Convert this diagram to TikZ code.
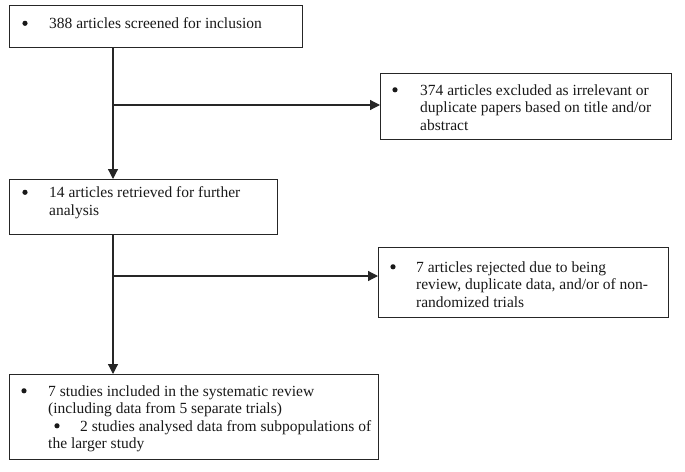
\documentclass[tikz,border=0pt]{standalone}
\usepackage{fontspec}
\setmainfont{Liberation Serif}
\usetikzlibrary{arrows.meta}
\tikzset{
  box/.style={draw=black!85, line width=1.2pt, rectangle, inner sep=0pt, anchor=north west},
  txt/.style={inner sep=0pt, anchor=base west, font=\fontsize{15.5}{17.5}\selectfont, text=black!90},
  bul/.style={circle, fill=black!90, inner sep=0pt, minimum size=5.2pt, yshift=5.2pt},
  arr/.style={draw=black!85, line width=1.2pt, -{Triangle[length=10pt,width=10pt]}},
  ln/.style={draw=black!85, line width=1.2pt}
}
\begin{document}
\begin{tikzpicture}[x=1pt,y=-1pt]
\useasboundingbox (0,0) rectangle (685,471);
% boxes
\node[box, minimum width=293pt, minimum height=42pt] (b1) at (9,5) {};
\node[box, minimum width=291pt, minimum height=66pt] (b2) at (380,73) {};
\node[box, minimum width=268pt, minimum height=55pt] (b3) at (9,179) {};
\node[box, minimum width=290pt, minimum height=70pt] (b4) at (378,247) {};
\node[box, minimum width=369pt, minimum height=85pt] (b5) at (9,374) {};
% box 1
\node[bul] (b1d) at (25,28.5) {};
\node[txt] (b1t) at (49,28.5) {388 articles screened for inclusion};
% box 2
\node[bul] (b2d) at (395,95) {};
\node[txt] (b2t1) at (420,95) {374 articles excluded as irrelevant or};
\node[txt] (b2t2) at (420,112.5) {duplicate papers based on title and/or};
\node[txt] (b2t3) at (420,130) {abstract};
% box 3
\node[bul] (b3d) at (25,197.5) {};
\node[txt] (b3t1) at (49,197.5) {14 articles retrieved for further};
\node[txt] (b3t2) at (49,215) {analysis};
% box 4
\node[bul] (b4d) at (393,272) {};
\node[txt] (b4t1) at (416,272) {7 articles rejected due to being};
\node[txt] (b4t2) at (416,289.5) {review, duplicate data, and/or of non-};
\node[txt] (b4t3) at (416,307) {randomized trials};
% box 5
\node[bul] (b5d1) at (24,396) {};
\node[txt] (b5t1) at (48,396) {7 studies included in the systematic review};
\node[txt] (b5t2) at (48,413.5) {(including data from 5 separate trials)};
\node[bul] (b5d2) at (57,431) {};
\node[txt] (b5t3) at (80,431) {2 studies analysed data from subpopulations of};
\node[txt] (b5t4) at (48,448.5) {the larger study};
% connectors
\coordinate (s1) at ([xshift=104pt]b1.south west);
\coordinate (e1) at (s1 |- b3.north);
\coordinate (j1) at (113,105);
\draw[arr] (s1) -- (e1);
\draw[arr] (j1) -- (j1 -| b2.west);
\coordinate (s2) at ([xshift=104pt]b3.south west);
\coordinate (e2) at (s2 |- b5.north);
\coordinate (j2) at (113,276);
\draw[arr] (s2) -- (e2);
\draw[arr] (j2) -- (j2 -| b4.west);
\end{tikzpicture}
\end{document}
